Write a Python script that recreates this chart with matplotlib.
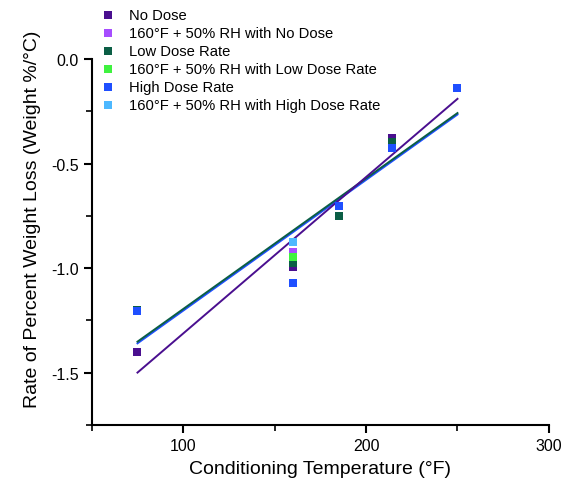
import matplotlib
matplotlib.use("Agg")
import matplotlib.pyplot as plt
from matplotlib.ticker import MultipleLocator

plt.rcParams['font.family'] = ['Liberation Sans', 'DejaVu Sans']

# Data
temps = [75, 160, 185, 214, 250]
no_dose = [-1.40, -0.995, -0.705, -0.375, -0.14]
low_dose = [-1.20, -0.976, -0.75, -0.395, -0.14]
high_dose = [-1.207, -1.07, -0.705, -0.423, -0.14]

rh_temp = [160]
rh_no_dose = [-0.921]
rh_low_dose = [-0.947]
rh_high_dose = [-0.873]

# Fit lines (endpoints)
fit_x = [75, 250]
fit_no_dose = [-1.50, -0.19]
fit_low_dose = [-1.352, -0.258]
fit_high_dose = [-1.360, -0.265]

labels = ["No Dose", "160°F + 50% RH with No Dose", "Low Dose Rate",
          "160°F + 50% RH with Low Dose Rate", "High Dose Rate",
          "160°F + 50% RH with High Dose Rate"]
colors = ["#4a0f8f", "#a64dff", "#0b5e45", "#3ff23f", "#1f4fff", "#4db8ff"]

fig = plt.figure(figsize=(5.7, 4.85), dpi=100)
ax = fig.add_axes([0.161, 0.122, 0.802, 0.754])

# lines
ax.plot(fit_x, fit_high_dose, color=colors[4], lw=1.4, zorder=2)
ax.plot(fit_x, fit_low_dose, color=colors[2], lw=1.4, zorder=2)
ax.plot(fit_x, fit_no_dose, color=colors[0], lw=1.4, zorder=2)

series = [(temps, no_dose), (rh_temp, rh_no_dose), (temps, low_dose),
          (rh_temp, rh_low_dose), (temps, high_dose), (rh_temp, rh_high_dose)]
handles = []
for (xs, ys), c, lab in zip(series, colors, labels):
    h = ax.scatter(xs, ys, marker='s', s=30, color=c, label=lab, zorder=3,
                   linewidths=0)
    handles.append(h)

ax.set_xlim(50, 300)
ax.set_ylim(-1.75, 0.0)
ax.xaxis.set_major_locator(MultipleLocator(100))
ax.xaxis.set_minor_locator(MultipleLocator(50))
ax.yaxis.set_major_locator(MultipleLocator(0.5))
ax.yaxis.set_minor_locator(MultipleLocator(0.25))
ax.yaxis.set_major_formatter(matplotlib.ticker.FormatStrFormatter('%.1f'))

for s in ['top', 'right']:
    ax.spines[s].set_visible(False)
for s in ['left', 'bottom']:
    ax.spines[s].set_linewidth(1.5)
ax.tick_params(which='major', direction='out', length=6, width=1.5, labelsize=11.5)
ax.tick_params(which='minor', direction='out', length=4, width=1.2)

ax.set_xlabel("Conditioning Temperature (°F)", fontsize=14, labelpad=5)
ax.set_ylabel("Rate of Percent Weight Loss (Weight %/°C)", fontsize=14)
ax.yaxis.set_label_coords(-0.112, 0.566)

fig.legend(handles=handles, loc='upper left', bbox_to_anchor=(0.163, 0.997),
           frameon=False, fontsize=10.6, handletextpad=0.95, labelspacing=0.27,
           borderaxespad=0.1, handlelength=1.0, markerscale=1.1)

fig.savefig("out.png", dpi=100)
